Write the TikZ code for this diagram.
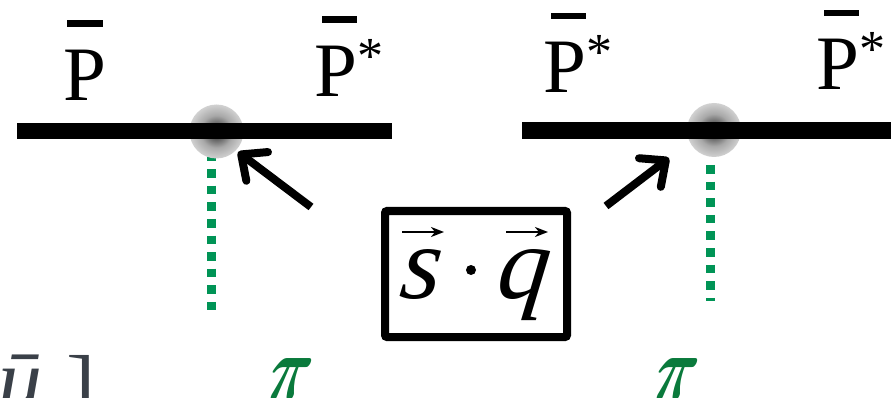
\documentclass[tikz,border=0pt]{standalone}
\usepackage{fontspec}
\usepackage{xcolor}
\usetikzlibrary{arrows.meta}
\setmainfont{Liberation Serif}
\definecolor{mDotGreen}{HTML}{009456}
\definecolor{mPiGreen}{HTML}{0A7A3C}
\definecolor{mBlurInk}{HTML}{3A4048}
\pgfdeclareradialshading{blobshade}{\pgfpoint{0bp}{0bp}}{color(0bp)=(black!90); color(7bp)=(black!62); color(15bp)=(black!34); color(25bp)=(black!18); color(50bp)=(black!18)}
\newcommand{\starmark}{\raisebox{23pt}{\fontsize{52}{52}\selectfont *}}
\newcommand{\pionmark}{\resizebox{40pt}{42pt}{\boldmath$\pi$}}
\tikzset{
    mesonlabel/.style={anchor=base west, inner sep=0pt, font=\fontsize{77}{80}\selectfont},
    overbar/.style={line width=6.5pt},
    mesonline/.style={line width=16.5pt},
    vertexblob/.style={circle, minimum size=54pt, inner sep=0pt, shading=blobshade},
    pionline/.style={mDotGreen, line width=9pt, dash pattern=on 8.6pt off 8pt},
    pionlabel/.style={anchor=base west, inner sep=0pt, mPiGreen, xslant=0.28, transform shape},
    opletter/.style={anchor=base west, inner sep=0pt, xslant=0.12, transform shape, font=\fontsize{104}{110}\selectfont\itshape},
    oparrow/.style={line width=2.7pt, -{Stealth[length=13pt, width=10pt, inset=4pt]}},
    spinarrow/.style={line width=8pt, -{Straight Barb[length=20pt, width=36pt, round]}},
    cutofftext/.style={anchor=base west, inner sep=0pt, mBlurInk, font=\fontsize{88}{90}\selectfont},
}
\begin{document}
\begin{tikzpicture}[x=1pt, y=-1pt]
    \clip (0,0) rectangle (891,398);
    % pions
    \coordinate (pionla) at (211.5,152.5);
    \coordinate (pionlb) at (211.5,310);
    \coordinate (pionra) at (710.5,165);
    \coordinate (pionrb) at (710.5,301);
    \draw[pionline] (pionla) -- (pionlb);
    \draw[pionline] (pionra) -- (pionrb);
    \node[pionlabel] (pil) at (263,400) {\pionmark};
    \node[pionlabel] (pir) at (649,400) {\pionmark};
    % the two lines
    \node[vertexblob] (blobl) at (216.5,131.5) {};
    \node[vertexblob] (blobr) at (714,130) {};
    \coordinate (linelw) at (17,131);
    \coordinate (linele) at (392,131);
    \coordinate (linerw) at (522,130.5);
    \coordinate (linere) at (891,130.5);
    \draw[mesonline] (linelw) -- (linele);
    \draw[mesonline] (linerw) -- (linere);
    % labels above the two lines
    \node[mesonlabel] (pa) at (63,101) {P};
    \node[mesonlabel] (pb) at (314,97) {P\starmark};
    \node[mesonlabel] (pc) at (543,93) {P\starmark};
    \node[mesonlabel] (pd) at (816,90) {P\starmark};
    \draw[overbar] (67,23.5) -- (103,23.5);
    \draw[overbar] (322,19.5) -- (357,19.5);
    \draw[overbar] (551,16) -- (586,16);
    \draw[overbar] (824,13) -- (859,13);
    % operator box
    \node[draw, line width=8pt, rounded corners=2pt, minimum width=182pt, minimum height=126pt, inner sep=0pt] (opbox) at (476,274) {};
    \node[opletter] (ops) at (398,298) {s};
    \node[opletter] (opq) at (495,298) {q};
    \node[circle, fill=black, minimum size=10pt, inner sep=0pt] (opdot) at (471,270) {};
    \coordinate (opsa) at (402,232);
    \coordinate (opsb) at (444,232);
    \coordinate (opqa) at (506,232);
    \coordinate (opqb) at (548,232);
    \draw[oparrow] (opsa) -- (opsb);
    \draw[oparrow] (opqa) -- (opqb);
    % arrows to the vertices
    \coordinate (taill) at (311,207);
    \coordinate (tipl) at (238,152);
    \coordinate (tailr) at (606,206);
    \coordinate (tipr) at (669,158);
    \draw[spinarrow] (taill) -- (tipl);
    \draw[spinarrow] (tailr) -- (tipr);
    % cut off text in the corner
    \node[cutofftext] (cutu) at (-2,409) {\textit{ū}};
    \node[cutofftext] (cutb) at (66,416) {]};
\end{tikzpicture}
\end{document}
